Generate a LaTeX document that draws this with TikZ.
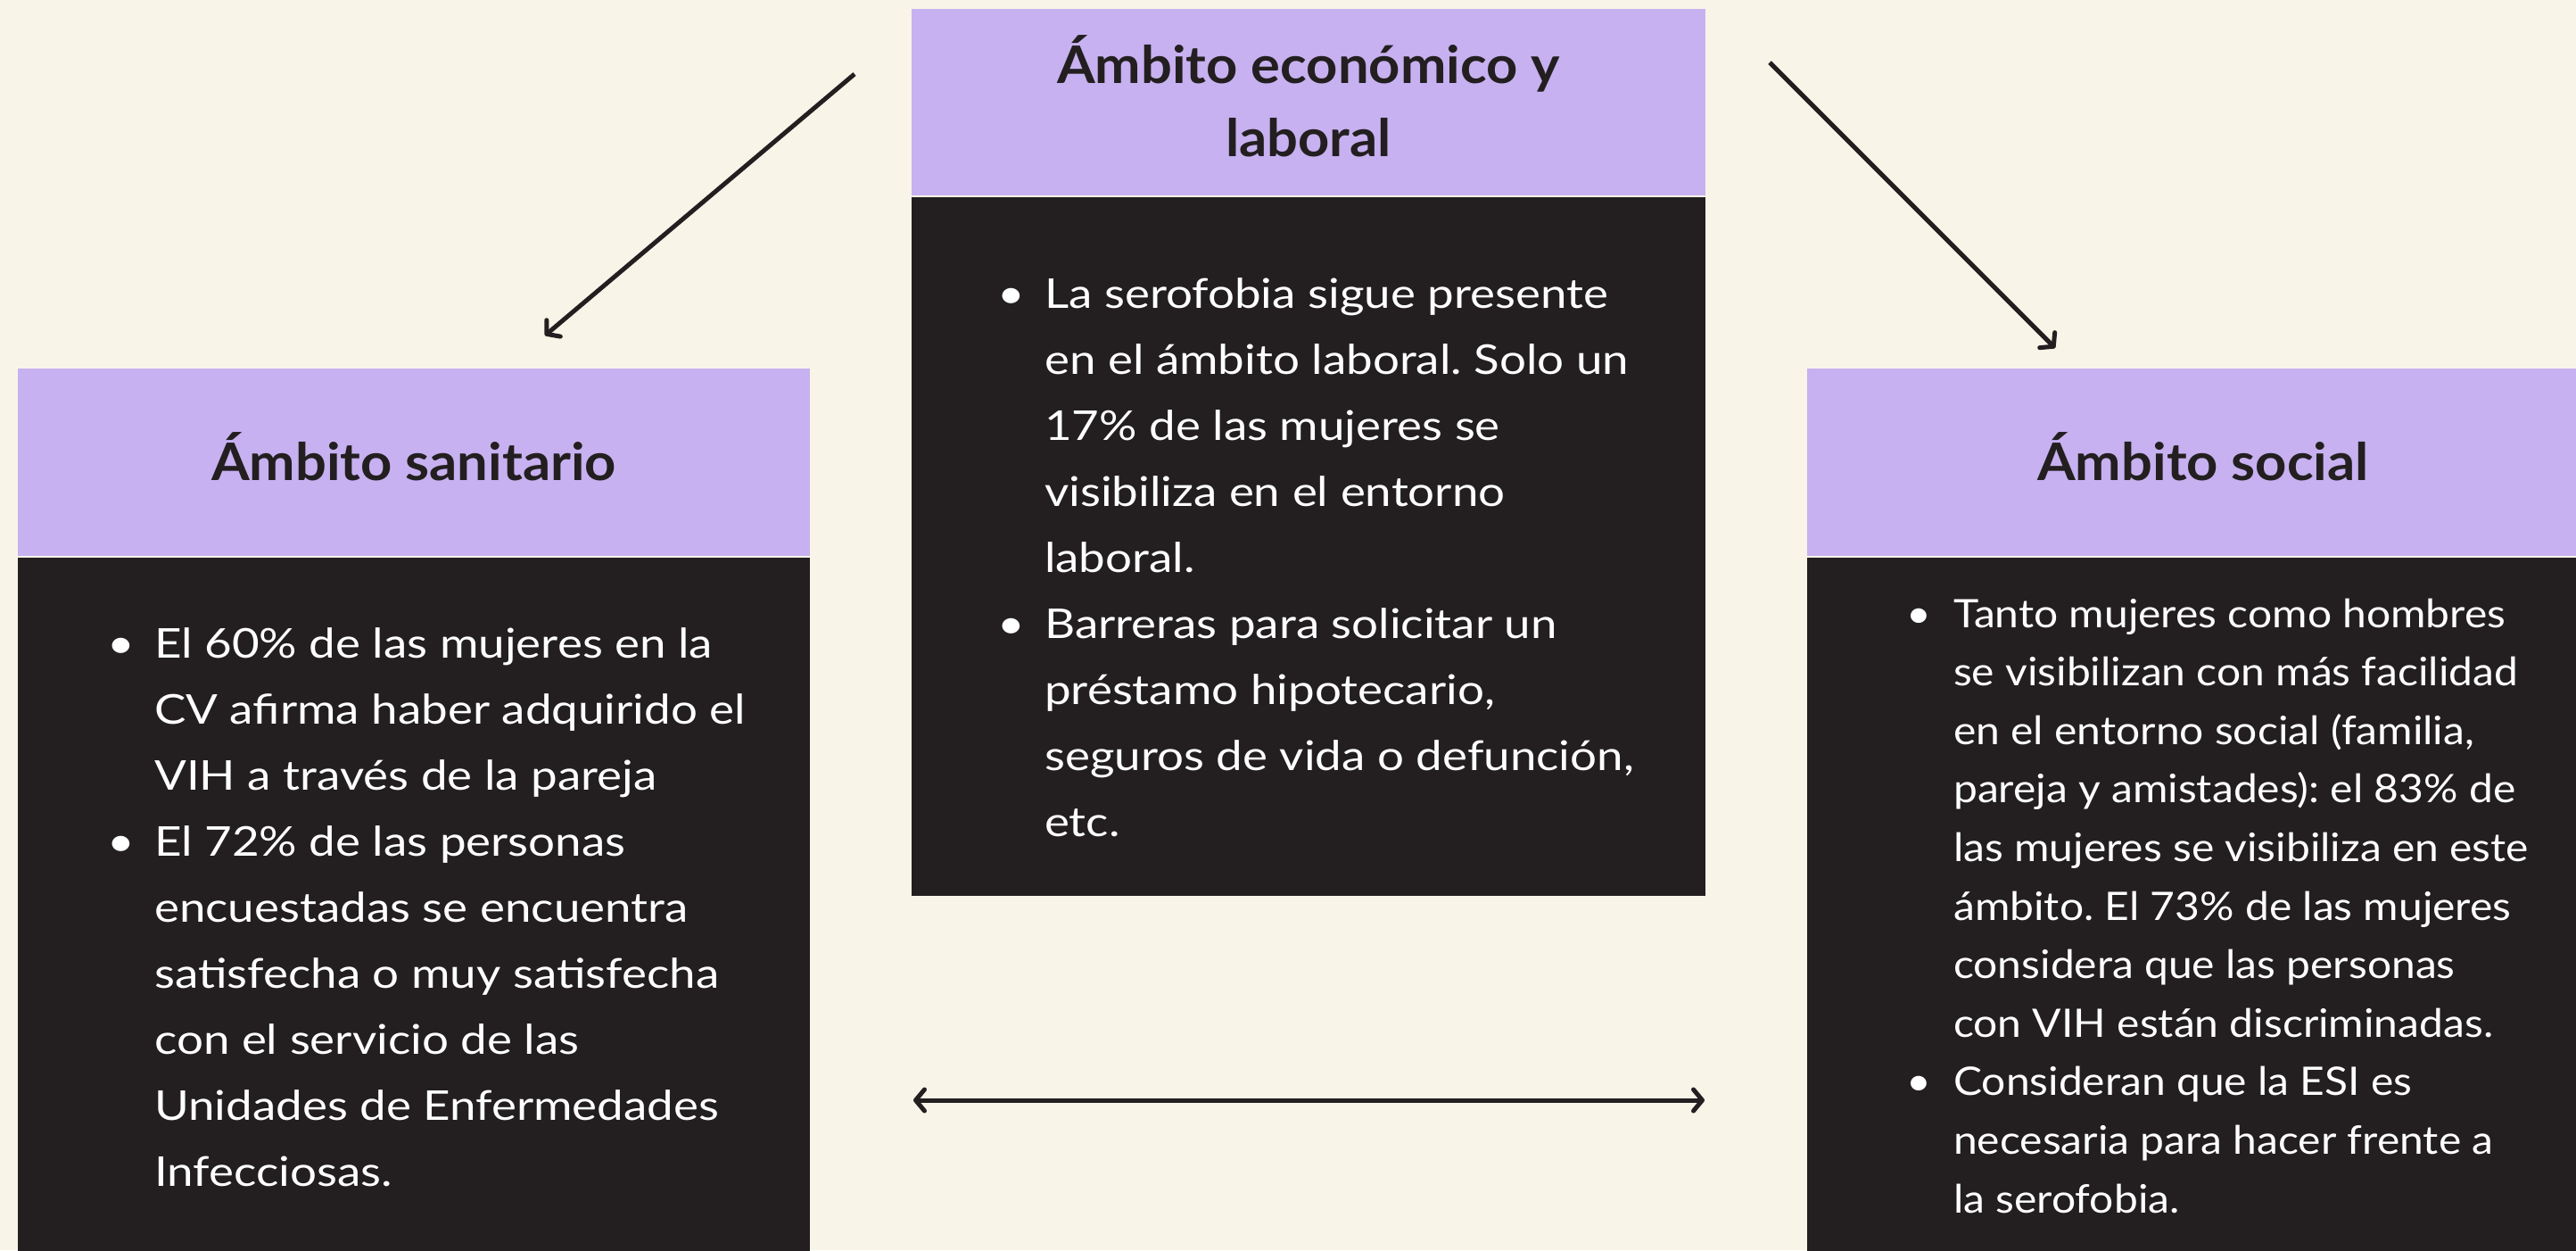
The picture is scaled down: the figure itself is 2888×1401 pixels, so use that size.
\documentclass[tikz,border=0pt]{standalone}
\usepackage{fontspec}
\setmainfont{Lato}[FakeStretch=1.15]
\newfontfamily\rfont{Lato}[FakeStretch=1.09]
\newfontfamily\hfont{Lato}[FakeStretch=1.06]
\usetikzlibrary{arrows.meta}
\definecolor{bg}{HTML}{F8F4E8}
\definecolor{lila}{HTML}{C7B1F0}
\definecolor{dark}{HTML}{231F20}
\frenchspacing
\newcommand\bitem[1]{\hbox{\llap{\makebox[53pt][l]{•}}#1}}
\newcommand\citem[1]{\hbox{#1}}
\tikzset{
  headbox/.style={fill=lila, draw=none, inner sep=0, outer sep=0, anchor=north west},
  bodybox/.style={fill=dark, draw=none, inner sep=0, outer sep=0, anchor=north west},
  headtext/.style={font=\hfont\fontsize{58pt}{82pt}\selectfont\bfseries, text=dark, inner sep=0, anchor=base},
  bodytext/.style={font=\frenchspacing\fontsize{46pt}{74pt}\selectfont, text=white, inner sep=0, anchor=base west},
  bodytextsm/.style={font=\frenchspacing\rfont\fontsize{44pt}{65.6pt}\selectfont, text=white, inner sep=0, anchor=base west},
  conn/.style={draw=dark, line width=5pt, -{Straight Barb[length=10pt, width=24pt, round]}},
  dconn/.style={draw=dark, line width=5pt, {Straight Barb[length=10pt, width=24pt, round]}-{Straight Barb[length=10pt, width=24pt, round]}}
}
\begin{document}
\begin{tikzpicture}[x=1pt, y=-1pt]
\fill[bg] (0,0) rectangle (2888,1401);
\useasboundingbox (0,0) rectangle (2888,1401);
\clip (0,0) rectangle (2888,1401);
% boxes
\node[headbox, minimum width=888pt, minimum height=210pt] (hL) at (20,413) {};
\node[bodybox, minimum width=888pt, minimum height=800pt] (bL) at (20,625) {};
\node[headbox, minimum width=890pt, minimum height=209pt] (hC) at (1022,10) {};
\node[bodybox, minimum width=890pt, minimum height=783pt] (bC) at (1022,221) {};
\node[headbox, minimum width=888pt, minimum height=210pt] (hR) at (2026,413) {};
\node[bodybox, minimum width=888pt, minimum height=800pt] (bR) at (2026,625) {};
% headings
\node[headtext] (tL) at (464,538) {Ámbito sanitario};
\node[headtext] (tC) at (1467,93) {\vtop{\baselineskip=82pt\halign{\hfil#\hfil\cr Ámbito económico y\cr laboral\cr}}};
\node[headtext] (tR) at (2470,538) {Ámbito social};
% body texts
\node[bodytext] (xL) at (173,737) {\vtop{%
  \bitem{El 60\% de las mujeres en la}
  \citem{CV afirma haber adquirido el}
  \citem{VIH a través de la pareja}
  \bitem{El 72\% de las personas}
  \citem{encuestadas se encuentra}
  \citem{satisfecha o muy satisfecha}
  \citem{con el servicio de las}
  \citem{Unidades de Enfermedades}
  \citem{Infecciosas.}}};
\node[bodytext] (xC) at (1171,345) {\vtop{%
  \bitem{La serofobia sigue presente}
  \citem{en el ámbito laboral. Solo un}
  \citem{17\% de las mujeres se}
  \citem{visibiliza en el entorno}
  \citem{laboral.}
  \bitem{Barreras para solicitar un}
  \citem{préstamo hipotecario,}
  \citem{seguros de vida o defunción,}
  \citem{etc.}}};
\node[bodytextsm] (xR) at (2190,703) {\vtop{%
  \bitem{Tanto mujeres como hombres}
  \citem{se visibilizan con más facilidad}
  \citem{en el entorno social (familia,}
  \citem{pareja y amistades): el 83\% de}
  \citem{las mujeres se visibiliza en este}
  \citem{ámbito. El 73\% de las mujeres}
  \citem{considera que las personas}
  \citem{con VIH están discriminadas.}
  \bitem{Consideran que la ESI es}
  \citem{necesaria para hacer frente a}
  \citem{la serofobia.}}};
% connectors
\coordinate (a1s) at (958,83);
\coordinate (a1e) at (611,376);
\coordinate (a2s) at (1984,70);
\coordinate (a2e) at (2304,390);
\coordinate (d1) at (1024,1233);
\coordinate (d2) at (1911,1233);
\draw[conn] (a1s) -- (a1e);
\draw[conn] (a2s) -- (a2e);
\draw[dconn] (d1) -- (d2);
\end{tikzpicture}
\end{document}
